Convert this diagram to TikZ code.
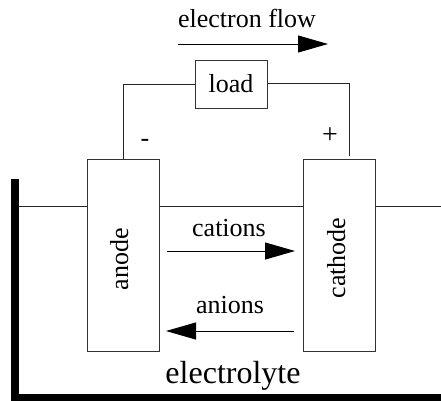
\documentclass[tikz,border=0pt]{standalone}
\usepackage{fontspec}
\setmainfont{Liberation Serif}
\usetikzlibrary{arrows.meta}
\tikzset{
  box/.style={draw=black!80,line width=1pt,fill=white,inner sep=0pt},
  lbl/.style={inner sep=0pt,anchor=base,font=\fontsize{26}{30}\selectfont},
  wire/.style={draw=black!85,line width=1pt},
  flow/.style={draw=black,line width=1pt,-{Triangle[length=30pt,width=17pt,black]}},
}
\begin{document}
\begin{tikzpicture}[x=1pt,y=-1pt]
\useasboundingbox (0,0) rectangle (441,400);
% water level
\coordinate (wl) at (19,206);
\coordinate (wr) at (441,206);
\draw[wire] (wl) -- (wr);
% container
\coordinate (wt) at (15,179);
\coordinate (wc) at (15,398);
\coordinate (we) at (441,398);
\draw[line width=8pt,black,line cap=butt,line join=miter] (wt) -- (wc) -- (we);
% electrodes and load
\node[box,minimum width=72pt,minimum height=192pt] (anode) at (123,255) {};
\node[box,minimum width=72pt,minimum height=192pt] (cathode) at (339,255) {};
\node[box,minimum width=72pt,minimum height=48pt] (load) at (231,84) {};
\node[lbl] (loadt) at (231,92.7) {load};
\node[lbl,rotate=90] (anodet) at (128,259) {anode};
\node[lbl,rotate=90] (cathodet) at (345,258) {cathode};
% circuit
\coordinate (lc) at (123,84);
\coordinate (rc) at (349,83);
\coordinate (re) at (349,156);
\draw[wire] (load.west) -- (lc) -- (anode.north);
\draw[wire] (load.east |- rc) -- (rc) -- (re);
\node[lbl] (minus) at (145,146.5) {-};
\node[lbl,font=\fontsize{28}{30}\selectfont] (plus) at (330,143) {+};
% arrows
\coordinate (ea) at (178,44);
\coordinate (eb) at (328,44);
\draw[flow] (ea) -- (eb);
\node[lbl] (electron) at (247,27) {electron flow};
\coordinate (ca) at (167,251);
\coordinate (cb) at (295,251);
\draw[flow] (ca) -- (cb);
\node[lbl] (cations) at (229,236) {cations};
\coordinate (aa) at (294,331);
\coordinate (ab) at (166,331);
\draw[flow] (aa) -- (ab);
\node[lbl] (anions) at (230,313) {anions};
\node[lbl,font=\fontsize{32}{36}\selectfont] (electrolyte) at (233,383) {electrolyte};
\end{tikzpicture}
\end{document}
